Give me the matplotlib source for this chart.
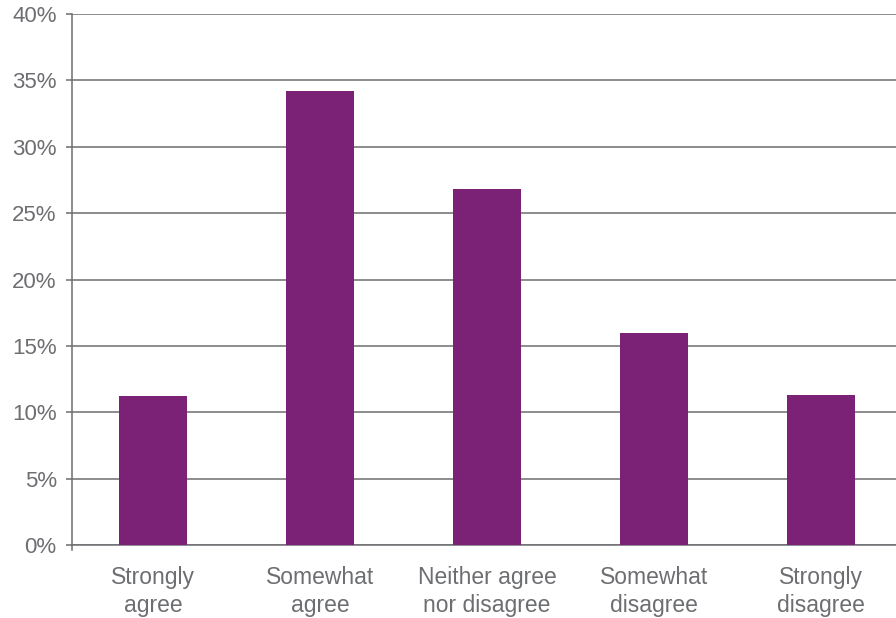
import numpy as np
import matplotlib
matplotlib.use("Agg")
import matplotlib.pyplot as plt
from matplotlib.ticker import PercentFormatter

categories = ["Strongly\nagree", "Somewhat\nagree", "Neither agree\nnor disagree",
              "Somewhat\ndisagree", "Strongly\ndisagree"]
shares = [11.2, 34.2, 26.8, 16.0, 11.3]
y_ticks = [0, 5, 10, 15, 20, 25, 30, 35, 40]

bar_color = "#7B2277"
grey = "#6D6E71"

plt.rcParams["font.family"] = ["Liberation Sans", "DejaVu Sans"]

fig = plt.figure(figsize=(8.96, 6.18), dpi=100)
ax = fig.add_axes([72 / 896, 73 / 618, 1 - 72 / 896, 531 / 618])

x = np.arange(len(categories))
ax.bar(x, shares, width=0.41, color=bar_color, zorder=3)

ax.set_xlim(-0.485, 4.45)
ax.set_ylim(0, 40)
ax.set_yticks(y_ticks)
ax.yaxis.set_major_formatter(PercentFormatter(decimals=0))
ax.yaxis.grid(True, color=grey, linewidth=1.1, zorder=0)

ax.set_xticks(x)
ax.set_xticklabels(categories, linespacing=1.3)
ax.tick_params(axis="x", length=0, pad=15, labelsize=16.5, labelcolor=grey)
ax.tick_params(axis="y", length=4, width=1.1, color=grey, pad=7,
               labelsize=16, labelcolor=grey)

for side in ["top", "right"]:
    ax.spines[side].set_visible(False)
for side in ["left", "bottom"]:
    ax.spines[side].set_color(grey)
    ax.spines[side].set_linewidth(1.1)
ax.spines["left"].set_bounds(-0.4, 40)

fig.savefig("out.png", dpi=100)
